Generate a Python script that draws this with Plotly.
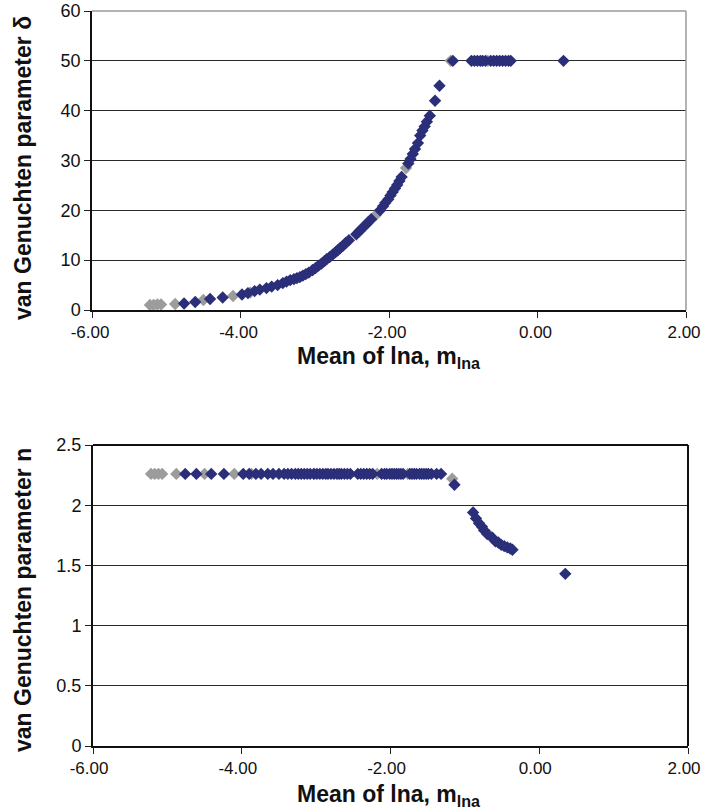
import plotly.graph_objects as go

# ---------------- data ----------------
blue_x = [
    -4.76, -4.61, -4.41, -4.24, -3.98, -3.90, -3.81, -3.74, -3.65, -3.58,
    -3.50, -3.43, -3.38, -3.33, -3.28, -3.24, -3.20, -3.16, -3.12, -3.08,
    -3.03, -2.99, -2.95, -2.91, -2.87, -2.84, -2.80, -2.76, -2.72, -2.69,
    -2.66, -2.62, -2.58, -2.54, -2.44, -2.40, -2.36, -2.32, -2.28, -2.24,
    -2.12, -2.08, -2.05, -2.01, -1.98, -1.95, -1.92, -1.89, -1.86, -1.83,
    -1.74, -1.71, -1.68, -1.65, -1.61, -1.58, -1.55, -1.52, -1.49, -1.45,
    -1.38, -1.32,
    -1.14, -0.89, -0.85, -0.81, -0.77, -0.74, -0.70, -0.63, -0.59, -0.55,
    -0.51, -0.47, -0.43, -0.39, -0.36, 0.35,
]
blue_delta = [
    1.3, 1.6, 2.2, 2.5, 3.1, 3.4, 3.8, 4.1, 4.4, 4.7,
    5.0, 5.4, 5.7, 6.0, 6.2, 6.4, 6.6, 6.9, 7.2, 7.5,
    8.0, 8.4, 8.9, 9.3, 9.8, 10.2, 10.6, 11.1, 11.6, 12.0,
    12.4, 12.9, 13.5, 14.0, 15.2, 15.8, 16.4, 17.0, 17.6, 18.2,
    20.0, 20.8, 21.5, 22.2, 23.0, 23.7, 24.4, 25.1, 25.9, 26.7,
    29.4, 30.3, 31.3, 32.3, 33.5, 35.0, 36.0, 36.8, 37.8, 39.0,
    42.0, 45.0,
    50, 50, 50, 50, 50, 50, 50, 50, 50, 50,
    50, 50, 50, 50, 50, 50,
]
blue_n = [
    2.26, 2.26, 2.26, 2.26, 2.26, 2.26, 2.26, 2.26, 2.26, 2.26,
    2.26, 2.26, 2.26, 2.26, 2.26, 2.26, 2.26, 2.26, 2.26, 2.26,
    2.26, 2.26, 2.26, 2.26, 2.26, 2.26, 2.26, 2.26, 2.26, 2.26,
    2.26, 2.26, 2.26, 2.26, 2.26, 2.26, 2.26, 2.26, 2.26, 2.26,
    2.26, 2.26, 2.26, 2.26, 2.26, 2.26, 2.26, 2.26, 2.26, 2.26,
    2.26, 2.26, 2.26, 2.26, 2.26, 2.26, 2.26, 2.26, 2.26, 2.26,
    2.26, 2.26,
    2.17, 1.94, 1.89, 1.85, 1.82, 1.79, 1.76, 1.73, 1.70, 1.69,
    1.67, 1.66, 1.65, 1.64, 1.63, 1.43,
]

gray_x = [-5.22, -5.17, -5.12, -5.07, -4.88, -4.50, -4.10, -3.87, -3.03,
          -2.18, -1.77, -1.17, -0.67]
gray_delta = [1.0, 1.0, 1.1, 1.1, 1.2, 2.0, 2.8, 3.5, 8.0,
              19.0, 28.5, 50, 50]
gray_n = [2.26, 2.26, 2.26, 2.26, 2.26, 2.26, 2.26, 2.26, 2.26,
          2.26, 2.26, 2.22, 1.75]

x_tick_vals = [-6, -4, -2, 0, 2]
x_tick_text = ["-6.00", "-4.00", "-2.00", "0.00", "2.00"]
delta_ticks = [0, 10, 20, 30, 40, 50, 60]
n_ticks = [0, 0.5, 1, 1.5, 2, 2.5]
n_tick_text = ["0", "0.5", "1", "1.5", "2", "2.5"]

# ---------------- figure ----------------
W, H = 702, 810
BLUE = "#2B2E78"
GRAY = "#9C9C9C"
FONT = "Liberation Sans, Arial, sans-serif"

fig = go.Figure()
mk = dict(symbol="diamond", size=9.5, line=dict(width=0))

fig.add_trace(go.Scatter(x=gray_x, y=gray_delta, mode="markers",
                         marker=dict(color=GRAY, **mk), xaxis="x", yaxis="y",
                         showlegend=False))
fig.add_trace(go.Scatter(x=blue_x, y=blue_delta, mode="markers",
                         marker=dict(color=BLUE, **mk), xaxis="x", yaxis="y",
                         showlegend=False))
fig.add_trace(go.Scatter(x=gray_x, y=gray_n, mode="markers",
                         marker=dict(color=GRAY, **mk), xaxis="x2", yaxis="y2",
                         showlegend=False))
fig.add_trace(go.Scatter(x=blue_x, y=blue_n, mode="markers",
                         marker=dict(color=BLUE, **mk), xaxis="x2", yaxis="y2",
                         showlegend=False))

def px_x(p):
    return p / W

def px_y(p):
    return 1 - p / H

ytick_font = dict(family=FONT, size=18, color="#111111")
xtick_font = dict(family=FONT, size=17, color="#111111")

xcommon = dict(range=[-6, 2], tickmode="array", tickvals=x_tick_vals,
               ticktext=x_tick_text, ticks="outside", ticklen=6,
               tickcolor="#222222", showgrid=False, zeroline=False,
               showline=True, linecolor="#111111", tickfont=xtick_font,
               ticklabeloverflow="allow", automargin=False, fixedrange=True)
ycommon = dict(ticks="outside", ticklen=6, tickcolor="#222222",
               showgrid=True, gridcolor="#2a2a2a", gridwidth=1.3,
               zeroline=False, showline=True, linecolor="#111111",
               tickfont=ytick_font, ticklabeloverflow="allow",
               automargin=False, fixedrange=True)

fig.update_layout(
    width=W, height=H,
    margin=dict(l=0, r=0, t=0, b=0, autoexpand=False),
    paper_bgcolor="white", plot_bgcolor="white",
    xaxis=dict(domain=[px_x(92), px_x(686)], anchor="y", linewidth=1.5,
               ticklabelshift=-2, **xcommon),
    yaxis=dict(domain=[px_y(310), px_y(11)], anchor="x", range=[0, 60],
               tickmode="array", tickvals=delta_ticks, linewidth=1.5,
               **ycommon),
    xaxis2=dict(domain=[px_x(93), px_x(688)], anchor="y2", linewidth=2,
                ticklabelshift=-4, **xcommon),
    yaxis2=dict(domain=[px_y(746), px_y(445)], anchor="x2", range=[0, 2.5],
                tickmode="array", tickvals=n_ticks, ticktext=n_tick_text,
                linewidth=2, **ycommon),
)

# plot-area borders (top/right)
fig.add_shape(type="line", xref="x domain", yref="y domain", x0=0, x1=1,
              y0=1, y1=1, line=dict(color="#9a9a9a", width=1.5))
fig.add_shape(type="line", xref="x domain", yref="y domain", x0=1, x1=1,
              y0=0, y1=1, line=dict(color="#9a9a9a", width=1.5))
fig.add_shape(type="line", xref="x2 domain", yref="y2 domain", x0=0, x1=1,
              y0=1, y1=1, line=dict(color="#111111", width=2))
fig.add_shape(type="line", xref="x2 domain", yref="y2 domain", x0=1, x1=1,
              y0=0, y1=1, line=dict(color="#111111", width=2))

title_font = dict(family=FONT, size=23, color="#111111")
xtitle = "<b>Mean of lna, m<sub>lna</sub></b>"
fig.add_annotation(text=xtitle, xref="paper", yref="paper",
                   x=px_x(389), y=px_y(357), showarrow=False,
                   xanchor="center", yanchor="middle", font=title_font)
fig.add_annotation(text=xtitle, xref="paper", yref="paper",
                   x=px_x(389), y=px_y(795), showarrow=False,
                   xanchor="center", yanchor="middle", font=title_font)
fig.add_annotation(text="<b>van Genuchten parameter δ</b>", xref="paper",
                   yref="paper", x=px_x(23), y=px_y(168), showarrow=False,
                   textangle=-90, xanchor="center", yanchor="middle",
                   font=title_font)
fig.add_annotation(text="<b>van Genuchten parameter n</b>", xref="paper",
                   yref="paper", x=px_x(23), y=px_y(600), showarrow=False,
                   textangle=-90, xanchor="center", yanchor="middle",
                   font=title_font)

fig.write_html("out.html")
